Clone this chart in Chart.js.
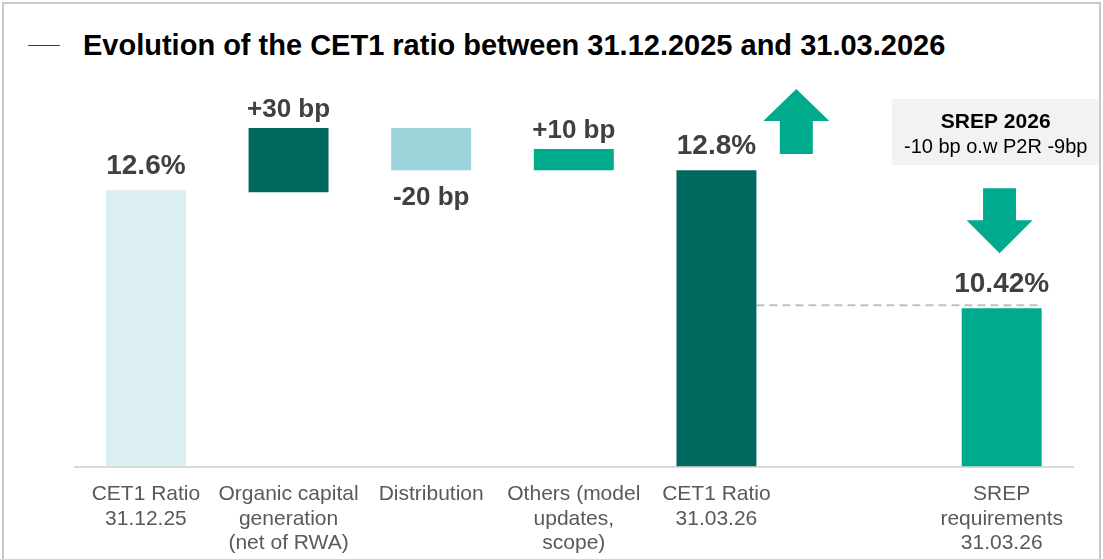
<!DOCTYPE html>
<html>
<head>
<meta charset="utf-8">
<script src="https://cdn.jsdelivr.net/npm/chart.js@4.4.1/dist/chart.umd.min.js"></script>
<style>
  html, body { margin: 0; padding: 0; background: #fff; }
  #wrap { position: relative; width: 1103px; height: 559px; overflow: hidden; }
  #frame { position: absolute; left: 2px; top: 2px; width: 1095px; height: 600px;
           border: 2px solid #c9c9c9; border-bottom: none; }
  #dash { position: absolute; left: 28px; top: 45px; width: 32px; height: 0;
          border-top: 1.5px solid #404040; }
  #title { position: absolute; left: 83px; top: 29px; margin: 0;
           font: bold 29px "Liberation Sans", Arial, sans-serif; color: #000; white-space: nowrap; }
  canvas { position: absolute; left: 0; top: 0; }
</style>
</head>
<body>
<div id="wrap">
  <div id="frame"></div>
  <div id="dash"></div>
  <h1 id="title">Evolution of the CET1 ratio between 31.12.2025 and 31.03.2026</h1>
  <canvas id="chart" width="1103" height="559"></canvas>
</div>
<script>
// categories (the empty slot keeps the gap before SREP)
var categories = [
  ["CET1 Ratio", "31.12.25"],
  ["Organic capital", "generation", "(net of RWA)"],
  ["Distribution"],
  ["Others (model", "updates,", "scope)"],
  ["CET1 Ratio", "31.03.26"],
  [""],
  ["SREP", "requirements", "31.03.26"]
];

// bar extents as drawn (the slide is not to scale), in % units
var barLow  = [9.84, 12.58, 12.80, 12.80, 9.84, null, 9.84];
var barHigh = [12.60, 13.22, 13.22, 13.01, 12.80, null, 11.42];

// labels printed on the chart
var valueLabels = ["12.6%", "+30 bp", "-20 bp", "+10 bp", "12.8%", "", "10.42%"];
var srepTitle = "SREP 2026";
var srepNote = "-10 bp o.w P2R -9bp";
var srepLevel = 11.45; // dashed reference line

var barColors = ["#dbeef2", "#00695f", "#9bd3db", "#00aa8d", "#00695f", "#ffffff", "#00aa8d"];
var arrowColor = "#00aa8d";
var FONT = "'Liberation Sans', Arial, sans-serif";

var overlay = {
  id: "overlay",
  beforeDatasetsDraw: function (chart) {
    var ctx = chart.ctx;
    var y = chart.scales.y;
    var bars = chart.getDatasetMeta(0).data;
    // dashed line from the 31.03.26 bar to the SREP bar
    var ly = y.getPixelForValue(srepLevel);
    ctx.save();
    ctx.strokeStyle = "#c0c0c0";
    ctx.lineWidth = 2;
    ctx.setLineDash([8, 5]);
    ctx.beginPath();
    ctx.moveTo(bars[4].x + bars[4].width / 2, ly);
    ctx.lineTo(bars[6].x + bars[6].width / 2 - 3, ly);
    ctx.stroke();
    ctx.restore();
  },
  afterDatasetsDraw: function (chart) {
    var ctx = chart.ctx;
    var x = chart.scales.x, y = chart.scales.y;
    var bars = chart.getDatasetMeta(0).data;

    ctx.save();
    ctx.fillStyle = "#404040";
    ctx.textAlign = "center";
    ctx.textBaseline = "alphabetic";
    bars.forEach(function (el, i) {
      var t = valueLabels[i];
      if (!t || barLow[i] == null) return;
      var top = Math.min(el.y, el.base), bottom = Math.max(el.y, el.base);
      var isBp = t.indexOf("bp") >= 0;
      ctx.font = "bold " + (isBp ? 26 : 28) + "px " + FONT;
      if (t.charAt(0) === "-") {
        ctx.fillText(t, el.x, bottom + 35);
      } else {
        ctx.fillText(t, el.x, top - (isBp ? 11 : 16));
      }
    });

    function arrow(cx, tipV, shoulderV, endV) {
      var tip = y.getPixelForValue(tipV), sh = y.getPixelForValue(shoulderV), end = y.getPixelForValue(endV);
      ctx.beginPath();
      ctx.moveTo(cx, tip);
      ctx.lineTo(cx + 33, sh);
      ctx.lineTo(cx + 16.5, sh);
      ctx.lineTo(cx + 16.5, end);
      ctx.lineTo(cx - 16.5, end);
      ctx.lineTo(cx - 16.5, sh);
      ctx.lineTo(cx - 33, sh);
      ctx.closePath();
      ctx.fill();
    }
    ctx.fillStyle = arrowColor;
    arrow(x.getPixelForValue(4.56), 13.61, 13.29, 12.96);   // up arrow
    arrow(x.getPixelForValue(5.985), 11.97, 12.30, 12.62);  // down arrow

    // SREP box
    var cx = x.getPixelForValue(6);
    var bTop = y.getPixelForValue(13.51), bBot = y.getPixelForValue(12.85);
    ctx.fillStyle = "#f2f2f2";
    ctx.fillRect(cx - 110, bTop, 207, bBot - bTop);
    ctx.fillStyle = "#000";
    ctx.font = "bold 21px " + FONT;
    ctx.fillText(srepTitle, cx - 6, bTop + 29);
    ctx.font = "20px " + FONT;
    ctx.fillText(srepNote, cx - 6, bTop + 54);
    ctx.restore();
  }
};

new Chart(document.getElementById("chart").getContext("2d"), {
  type: "bar",
  data: {
    labels: categories,
    datasets: [{
      data: categories.map(function (c, i) {
        return barLow[i] == null ? null : [barLow[i], barHigh[i]];
      }),
      backgroundColor: barColors,
      borderWidth: 0,
      barPercentage: 0.5606,
      categoryPercentage: 1
    }]
  },
  options: {
    responsive: false,
    animation: false,
    layout: { padding: { left: 74.6, right: 30, top: 70, bottom: -4 } },
    plugins: { legend: { display: false }, tooltip: { enabled: false } },
    scales: {
      x: {
        offset: true,
        grid: { display: false },
        border: { display: true, color: "#d9d9d9", width: 2 },
        ticks: {
          color: "#595959",
          font: { family: FONT, size: 21, lineHeight: 1.15 },
          padding: 8,
          maxRotation: 0,
          autoSkip: false
        }
      },
      y: { display: false, min: 9.84, max: 13.8 }
    }
  },
  plugins: [overlay]
});
</script>
</body>
</html>
